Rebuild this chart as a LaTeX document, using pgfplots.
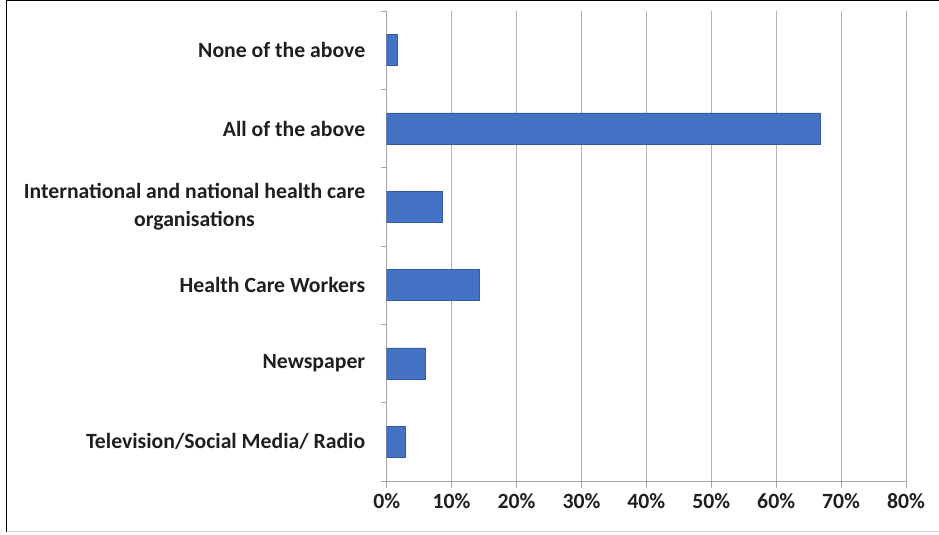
\documentclass[border=0pt]{standalone}
\usepackage{pgfplots}
\pgfplotsset{compat=1.18}
\usepackage{fontspec}
\setmainfont{Carlito}
\definecolor{barblue}{HTML}{4472C4}
\definecolor{txt}{HTML}{1F1F1F}
\begin{document}
\begin{tikzpicture}[x=1bp,y=1bp]
\useasboundingbox (-386.7,-54) rectangle (552.3,481);
\draw[black, line width=1.6bp] (-380,481) -- (552.3,481);
\draw[black, line width=1.6bp] (-380,481) -- (-380,-51);
\draw[gray!30, line width=1bp] (-380,-51) -- (552.3,-51);
\begin{axis}[
  at={(0,0)}, anchor=south west,
  scale only axis, width=519.3bp, height=470bp,
  xbar, bar width=31bp,
  xmin=0, xmax=80, ymin=-0.5, ymax=5.5,
  axis lines*=left,
  axis line style={gray!70, line width=0.8bp, -},
  xtick={0,10,...,80},
  xticklabel={\pgfmathprintnumber[assume math mode=true]{\tick}\%},
  ytick={0,...,5},
  yticklabels={Television/Social Media/ Radio, Newspaper, Health Care Workers, {International and national health care\\organisations}, All of the above, None of the above},
  minor ytick={-0.5,0.5,...,5.5},
  tick align=outside,
  major tick length=7bp, minor tick length=6bp,
  y tick style={draw=none},
  minor y tick style={draw=gray!70, line width=0.8bp},
  x tick style={draw=gray!70, line width=0.8bp},
  xmajorgrids, major grid style={gray!60, line width=0.8bp},
  ticklabel style={font=\bfseries\fontsize{21.8}{28}\selectfont, text=txt},
  yticklabel style={align=center, xshift=-11bp},
  xticklabel style={yshift=-2bp},
]
\addplot[fill=barblue, draw=barblue!80!black, line width=0.4bp] coordinates {
 (2.9,0) (6.0,1) (14.3,2) (8.5,3) (66.8,4) (1.6,5)
};
\end{axis}
\end{tikzpicture}
\end{document}
